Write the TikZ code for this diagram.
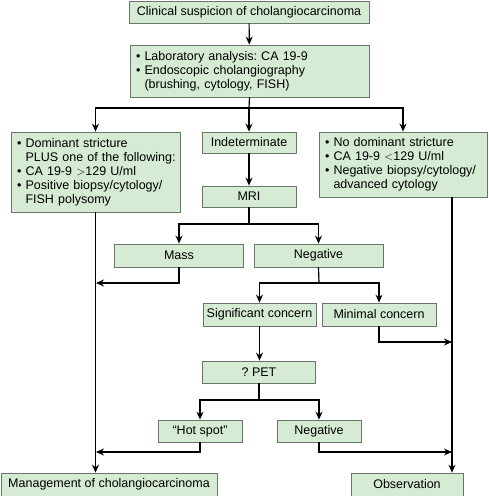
\documentclass[tikz,border=0pt]{standalone}
\usepackage{fontspec}
\setmainfont{Liberation Sans}
\usepackage{tikz}
\usetikzlibrary{arrows.meta,positioning}
\usepackage{xcolor}
\definecolor{boxgreen}{HTML}{D5EBD3}
\definecolor{boxline}{HTML}{6A756A}
\newcommand{\itm}{\textbullet\ }
\newcommand{\cont}{\hphantom{\textbullet\ }}
\frenchspacing
\hyphenpenalty=10000
\exhyphenpenalty=10000

\begin{document}
\begin{tikzpicture}[
      x=1pt, y=-1pt,
      box/.style={
        draw=boxline, line width=0.8pt, fill=boxgreen, align=center,
        font=\fontsize{12.5}{14}\selectfont, inner sep=0pt
      },
      listbox/.style={
        draw=boxline, line width=0.8pt, fill=boxgreen, align=left,
        font=\fontsize{12.5}{14}\selectfont, inner xsep=6pt, inner ysep=0pt
      },
      flow/.style={-{Stealth[length=8pt,width=7pt]}, line width=1.2pt},
      link/.style={line width=1.2pt}
    ]
    \useasboundingbox (0,0) rectangle (488,496);

    \node[box, minimum width=240pt, minimum height=22pt] (susp) at (249,12)
      {Clinical suspicion of cholangiocarcinoma};
    \node[listbox, text width=227pt, minimum height=52pt] (lab) at (249.5,71) {
      \itm Laboratory analysis: CA 19-9\\
      \itm Endoscopic cholangiography\\
      \cont(brushing, cytology, FISH)
    };
    \node[listbox, text width=157pt, minimum height=80pt] (pos) at (95.5,172) {
      \itm Dominant stricture\\
      \mbox{\cont PLUS one of the following:}\\
      \itm CA 19-9 $>$129 U/ml\\
      \itm Positive biopsy/cytology/\\
      \cont FISH polysomy
    };
    \node[box, minimum width=94pt, minimum height=21pt] (indet) at (249,142.5) {Indeterminate};
    \node[listbox, text width=156pt, minimum height=65pt] (neg) at (403,164.5) {
      \itm No dominant stricture\\
      \itm CA 19-9 $<$129 U/ml\\
      \itm Negative biopsy/cytology/\\
      \cont advanced cytology
    };
    \node[box, minimum width=94pt, minimum height=21pt] (mri) at (249,196.5) {MRI};
    \node[box, minimum width=129pt, minimum height=23pt] (mass) at (179,255.5) {Mass};
    \node[box, minimum width=129pt, minimum height=23pt] (mrineg) at (318.5,255.5) {Negative};
    \node[box, minimum width=113pt, minimum height=23pt] (sig) at (259.5,314.5) {Significant concern};
    \node[box, minimum width=114pt, minimum height=23pt] (mini) at (379,314.5) {Minimal concern};
    \node[box, minimum width=113pt, minimum height=22pt] (pet) at (259,372) {? PET};
    \node[box, minimum width=84pt, minimum height=22pt] (hot) at (200,431) {“Hot spot”};
    \node[box, minimum width=84pt, minimum height=22pt] (petneg) at (319,431) {Negative};
    \node[box, minimum width=216pt, minimum height=23pt] (mgmt) at (109,484.5) {Management of cholangiocarcinoma};
    \node[box, minimum width=112pt, minimum height=23pt] (obs) at (407,484.5) {Observation};

    \coordinate (split1) at (249,108);
    \coordinate (split2) at (249,224);
    \coordinate (split3) at (319,283);
    \coordinate (split4) at (259,400);
    \coordinate (negout) at (452,197);
    \coordinate (jmass) at (96,283);
    \coordinate (jhot) at (96,452);
    \coordinate (jmini) at (452,342);
    \coordinate (jneg) at (452,452);

    \draw[flow] (susp) -- (lab);
    \draw[link] (lab.south) -- (split1);
    \draw[flow] (split1) -| (pos.north);
    \draw[flow] (split1) -- (indet);
    \draw[flow] (split1) -| (neg.north);
    \draw[flow] (indet) -- (mri);
    \draw[link] (mri.south) -- (split2);
    \draw[flow] (split2) -| (mass.north);
    \draw[flow] (split2) -| (mrineg.north);
    \draw[link] (mrineg.south) -- (split3);
    \draw[flow] (split3) -| (sig.north);
    \draw[flow] (split3) -| (mini.north);
    \draw[flow] (sig.south) -- (sig.south |- pet.north);
    \draw[link] (pet.south) -- (split4);
    \draw[flow] (split4) -| (hot.north);
    \draw[flow] (split4) -| (petneg.north);
    \draw[flow] (pos.south) -- (pos.south |- mgmt.north);
    \draw[flow] (negout) -- (negout |- obs.north);
    \draw[flow] (mass.south) |- (jmass);
    \draw[flow] (hot.south) |- (jhot);
    \draw[flow] (mini.south) |- (jmini);
    \draw[flow] (petneg.south) |- (jneg);
  \end{tikzpicture}
\end{document}
